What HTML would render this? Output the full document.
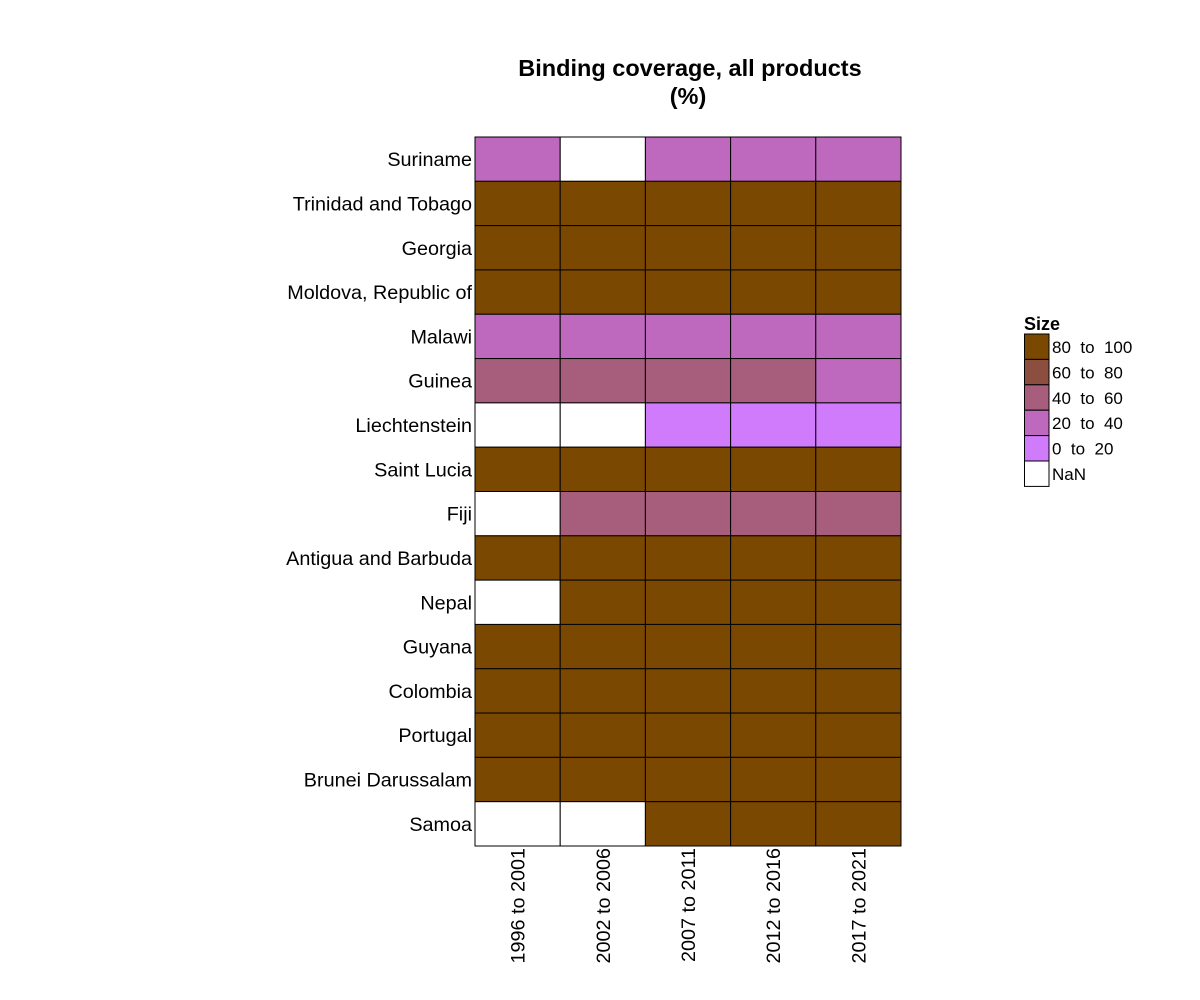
<!DOCTYPE html>
<html><head><meta charset="utf-8"><style>
body{margin:0;background:#fff;}
svg{display:block;font-family:"Liberation Sans",Arial,sans-serif;}
text{white-space:pre;}
</style></head><body>
<svg id="chart" width="1200" height="1000" viewBox="0 0 1200 1000">
<text x="690" y="76" text-anchor="middle" font-size="23.5" font-weight="bold">Binding coverage, all products</text>
<text x="688" y="104" text-anchor="middle" font-size="23.5" font-weight="bold">(%)</text>
<g id="cells"></g>
<g id="ylabels"></g>
<g id="xlabels"></g>
<g id="legend"></g>
</svg>
<script>
const countries = ["Suriname","Trinidad and Tobago","Georgia","Moldova, Republic of","Malawi","Guinea","Liechtenstein","Saint Lucia","Fiji","Antigua and Barbuda","Nepal","Guyana","Colombia","Portugal","Brunei Darussalam","Samoa"];
const periods = ["1996 to 2001","2002 to 2006","2007 to 2011","2012 to 2016","2017 to 2021"];
const values = [
 [27,null,27,27,27],
 [100,100,100,100,100],
 [100,100,100,100,100],
 [100,100,100,100,100],
 [31,31,31,31,31],
 [45,45,45,45,38],
 [null,null,10,10,10],
 [100,100,100,100,100],
 [null,50,50,50,50],
 [97,97,97,97,97],
 [null,100,100,100,100],
 [100,100,100,100,100],
 [100,100,100,100,100],
 [100,100,100,100,100],
 [100,100,100,100,100],
 [null,null,92,92,92]
];
const legendLabels = ["80  to  100","60  to  80","40  to  60","20  to  40","0  to  20","NaN"];
const colors = ["#7A4800","#8C4E3E","#A65E7C","#BF69BE","#D07AFC","#FFFFFF"];

const NS="http://www.w3.org/2000/svg";
const X0=475,X1=901,Y0=137,Y1=846;
const cw=(X1-X0)/periods.length, rh=(Y1-Y0)/countries.length;
function xPos(i){return X0+i*cw;}
function yPos(j){return Y0+j*rh;}
function colorFor(v){
  if(v===null||v===undefined||isNaN(v))return colors[5];
  if(v>=80)return colors[0]; if(v>=60)return colors[1]; if(v>=40)return colors[2]; if(v>=20)return colors[3]; return colors[4];
}
function mk(tag,attrs,parent){const e=document.createElementNS(NS,tag);for(const k in attrs)e.setAttribute(k,attrs[k]);parent.appendChild(e);return e;}
const cells=document.getElementById('cells');
values.forEach((row,j)=>row.forEach((v,i)=>{
  const r=mk('rect',{x:xPos(i),y:yPos(j),width:cw,height:rh,fill:colorFor(v),stroke:'#000','stroke-width':1},cells);
  
  
}));
const yl=document.getElementById('ylabels');
countries.forEach((c,j)=>{
  const t=mk('text',{x:X0-3,y:yPos(j)+rh/2+7,'text-anchor':'end','font-size':19.8},yl);
  t.textContent=c;
  
  
});
const xl=document.getElementById('xlabels');
periods.forEach((p,i)=>{
  const cx=xPos(i)+cw/2+7, cy=Y1+2;
  const t=mk('text',{x:cx,y:cy,'text-anchor':'end','font-size':19.8,transform:`rotate(-90 ${cx} ${cy})`},xl);
  t.textContent=p;
  
  
});
const lg=document.getElementById('legend');
const lt=mk('text',{x:1024,y:330,'font-size':18,'font-weight':'bold'},lg);
lt.textContent="Size";


legendLabels.forEach((l,k)=>{
  const y=334+k*25.4;
  const r=mk('rect',{x:1024.5,y:y,width:24.5,height:25.4,fill:colors[k],stroke:'#000','stroke-width':1},lg);
  
  
  const t=mk('text',{x:1052,y:y+19,'font-size':17},lg);
  t.textContent=l;
  
  
});
</script>
</body></html>
